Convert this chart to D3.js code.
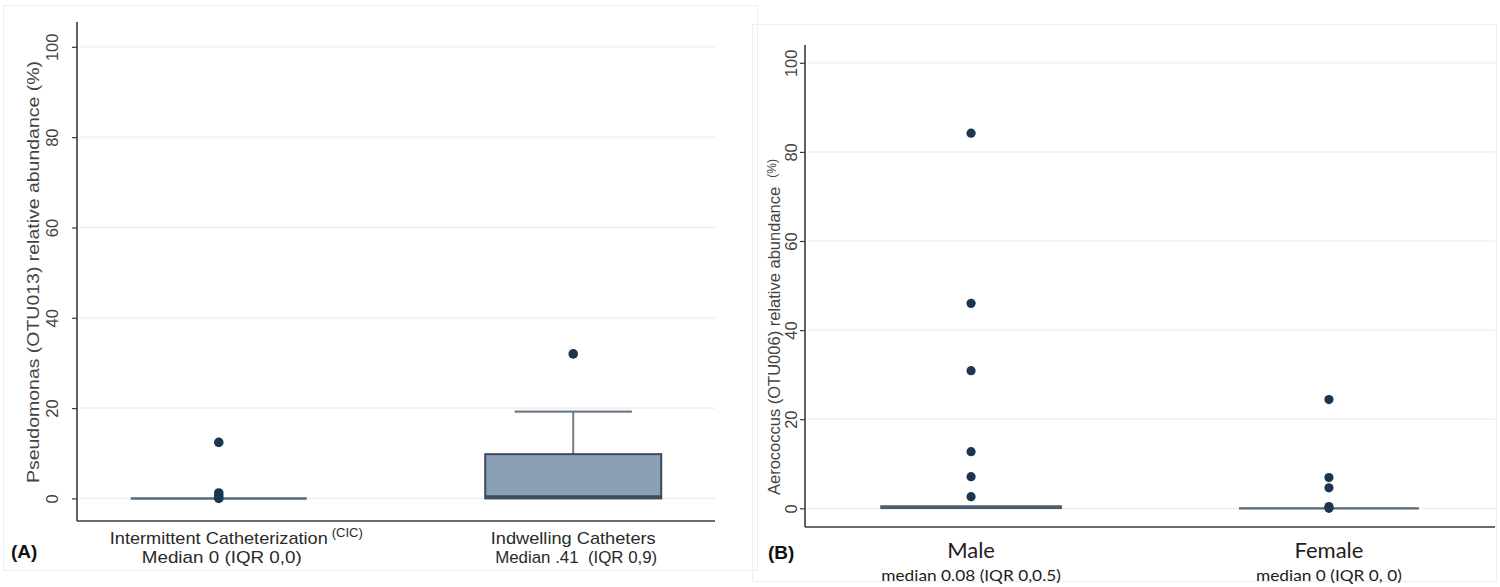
<!DOCTYPE html>
<html>
<head>
<meta charset="utf-8">
<script src="https://cdn.jsdelivr.net/npm/d3@7"></script>
<style>
  html, body { margin: 0; padding: 0; background: #fff; }
  svg { display: block; }
  text { white-space: pre; }
</style>
</head>
<body>
<script>
// ---------- Panel A data ----------
const aCategories = ["Intermittent Catheterization", "Indwelling Catheters"];
const aSuperscripts = ["(CIC)", ""];
const aSubLabels = ["Median 0 (IQR 0,0)", "Median .41  (IQR 0,9)"];
const aMedian = [0, 0.41];
const aQ1 = [0, 0];
const aQ3 = [0, 9.8];
const aWhiskerHigh = [0, 19.2];
const aOutliers = [[12.4, 1.2, 0.6, 0], [32]];
const aTicks = [0, 20, 40, 60, 80, 100];
const aYLabel = "Pseudomonas (OTU013) relative abundance (%)";

// ---------- Panel B data ----------
const bCategories = ["Male", "Female"];
const bSubLabels = ["median 0.08 (IQR 0,0.5)", "median 0 (IQR 0, 0)"];
const bMedian = [0.08, 0];
const bQ1 = [0, 0];
const bQ3 = [0.5, 0];
const bOutliers = [[84.2, 46, 30.9, 12.7, 7.1, 2.6], [24.4, 6.9, 4.6, 0.4, 0]];
const bTicks = [0, 20, 40, 60, 80, 100];
const bYLabelMain = "Aerococcus (OTU006) relative abundance  ";
const bYLabelUnit = "(%)";

const W = 1500, H = 587;
const svg = d3.select("body").append("svg").attr("width", W).attr("height", H);

const DOT = "#1d3650", BOXFILL = "#8a9eb6", BOXSTROKE = "#3a4b5c",
      MEDLINE = "#56697a", WHISK = "#6f7d89", GRID = "#ececec", AXIS = "#3a3a3a";
const ARIAL = "Liberation Sans, Arial, sans-serif";

// panel frames (faint)
svg.append("rect").attr("x", 3.5).attr("y", 5.5).attr("width", 754).attr("height", 565)
  .attr("fill", "none").attr("stroke", "#eeeeee");
svg.append("rect").attr("x", 752.5).attr("y", 24.5).attr("width", 744).attr("height", 557)
  .attr("fill", "none").attr("stroke", "#eeeeee");

function panel(opts) {
  const g = svg.append("g");
  const y = d3.scaleLinear().domain(opts.yDomain).range([opts.bottom, opts.top]);
  const x = d3.scalePoint().domain(opts.categories).range([opts.left, opts.right]).padding(opts.pad);

  g.selectAll(".grid").data(opts.ticks).join("line")
    .attr("x1", opts.left + 3).attr("x2", opts.right)
    .attr("y1", d => y(d)).attr("y2", d => y(d))
    .attr("stroke", GRID).attr("stroke-width", 1.2);

  const yAxis = d3.axisLeft(y).tickValues(opts.ticks).tickSize(5).tickPadding(0).tickFormat(d3.format("d"));
  const ya = g.append("g").attr("transform", `translate(${opts.left},0)`).call(yAxis);
  ya.select(".domain").remove();
  ya.selectAll(".tick line").attr("stroke", AXIS).attr("stroke-width", 1.2);
  ya.selectAll(".tick text")
    .attr("x", 0).attr("dy", null)
    .attr("transform", `translate(${opts.tickLabelX - opts.left},0) rotate(-90)`)
    .attr("text-anchor", "middle").attr("dominant-baseline", "central")
    .attr("font-family", ARIAL)
    .attr("font-size", opts.tickFont).attr("fill", "#444");

  g.append("line").attr("x1", opts.left).attr("x2", opts.left)
    .attr("y1", opts.top).attr("y2", opts.bottom)
    .attr("stroke", AXIS).attr("stroke-width", 1.6);
  g.append("line").attr("x1", opts.left).attr("x2", opts.right)
    .attr("y1", opts.bottom).attr("y2", opts.bottom)
    .attr("stroke", AXIS).attr("stroke-width", 1.6);

  return { g, x, y };
}

// ---------- Panel A ----------
const A = panel({
  categories: aCategories, ticks: aTicks, yDomain: [-5, 105.5],
  left: 77, right: 715, top: 22, bottom: 521, pad: 0.4, tickLabelX: 52, tickFont: 16.5
});
const bwA = 176;
const aLabelWidths = [218, 165];
const aSubWidths = [160, 162];
aCategories.forEach((c, i) => {
  const cx = A.x(c);
  if (aWhiskerHigh[i] > aQ3[i]) {
    A.g.append("line").attr("x1", cx).attr("x2", cx)
      .attr("y1", A.y(aQ3[i])).attr("y2", A.y(aWhiskerHigh[i]))
      .attr("stroke", WHISK).attr("stroke-width", 2);
    A.g.append("line").attr("x1", cx - bwA / 3).attr("x2", cx + bwA / 3)
      .attr("y1", A.y(aWhiskerHigh[i])).attr("y2", A.y(aWhiskerHigh[i]))
      .attr("stroke", WHISK).attr("stroke-width", 2.2);
  }
  if (aQ3[i] > aQ1[i]) {
    A.g.append("rect").attr("x", cx - bwA / 2).attr("width", bwA)
      .attr("y", A.y(aQ3[i])).attr("height", A.y(aQ1[i]) - A.y(aQ3[i]))
      .attr("fill", BOXFILL).attr("stroke", BOXSTROKE).attr("stroke-width", 2);
    A.g.append("line").attr("x1", cx - bwA / 2).attr("x2", cx + bwA / 2)
      .attr("y1", A.y(aMedian[i])).attr("y2", A.y(aMedian[i]))
      .attr("stroke", BOXSTROKE).attr("stroke-width", 2.5);
  } else {
    A.g.append("line").attr("x1", cx - bwA / 2).attr("x2", cx + bwA / 2)
      .attr("y1", A.y(aMedian[i])).attr("y2", A.y(aMedian[i]))
      .attr("stroke", MEDLINE).attr("stroke-width", 2.5);
  }
  A.g.selectAll(null).data(aOutliers[i]).join("circle")
    .attr("cx", cx).attr("cy", d => A.y(d)).attr("r", 4.8).attr("fill", DOT);

  A.g.append("text").attr("x", cx).attr("y", 544).attr("text-anchor", "middle")
    .attr("font-family", ARIAL).attr("font-size", 17)
    .attr("fill", "#2a2a2a").attr("textLength", aLabelWidths[i]).attr("lengthAdjust", "spacingAndGlyphs").text(c);
  if (aSuperscripts[i]) {
    A.g.append("text").attr("x", cx + aLabelWidths[i] / 2 + 4).attr("y", 537)
      .attr("font-family", ARIAL).attr("font-size", 13)
      .attr("fill", "#2a2a2a").text(aSuperscripts[i]);
  }
  A.g.append("text").attr("x", cx + 3).attr("y", 563).attr("text-anchor", "middle")
    .attr("font-family", ARIAL).attr("font-size", 17)
    .attr("fill", "#2a2a2a").attr("textLength", aSubWidths[i]).attr("lengthAdjust", "spacingAndGlyphs").text(aSubLabels[i]);
});
A.g.append("text").attr("transform", "translate(33,272) rotate(-90)")
  .attr("text-anchor", "middle").attr("dominant-baseline", "central")
  .attr("font-family", ARIAL).attr("font-size", 17)
  .attr("fill", "#444").attr("textLength", 422).attr("lengthAdjust", "spacingAndGlyphs").text(aYLabel);
svg.append("text").attr("x", 11).attr("y", 558)
  .attr("font-family", ARIAL).attr("font-weight", "bold")
  .attr("font-size", 19).attr("fill", "#111").text("(A)");

// ---------- Panel B ----------
const B = panel({
  categories: bCategories, ticks: bTicks, yDomain: [-4.2, 104],
  left: 805, right: 1495, top: 45, bottom: 527, pad: 0.464, tickLabelX: 791, tickFont: 16.5
});
const bwB = 180;
bCategories.forEach((c, i) => {
  const cx = B.x(c);
  if (bQ3[i] > bQ1[i]) {
    B.g.append("rect").attr("x", cx - bwB / 2).attr("width", bwB)
      .attr("y", B.y(bQ3[i])).attr("height", B.y(bQ1[i]) - B.y(bQ3[i]))
      .attr("fill", BOXFILL).attr("stroke", "#445868").attr("stroke-width", 1.6);
    B.g.append("line").attr("x1", cx - bwB / 2).attr("x2", cx + bwB / 2)
      .attr("y1", B.y(bMedian[i])).attr("y2", B.y(bMedian[i]))
      .attr("stroke", "#445868").attr("stroke-width", 1.2);
  } else {
    B.g.append("line").attr("x1", cx - bwB / 2).attr("x2", cx + bwB / 2)
      .attr("y1", B.y(bMedian[i])).attr("y2", B.y(bMedian[i]))
      .attr("stroke", MEDLINE).attr("stroke-width", 2.2);
  }
  B.g.selectAll(null).data(bOutliers[i]).join("circle")
    .attr("cx", cx).attr("cy", d => B.y(d)).attr("r", 4.6).attr("fill", DOT);

  B.g.append("text").attr("x", cx).attr("y", 558).attr("text-anchor", "middle")
    .attr("font-family", "Lato, Open Sans, sans-serif").attr("font-size", 22)
    .attr("fill", "#1e1e1e").text(c);
  const sub = B.g.append("text").attr("x", cx).attr("y", 581).attr("text-anchor", "middle")
    .attr("font-family", "Lato, Open Sans, sans-serif").attr("font-size", 16)
    .attr("fill", "#1e1e1e").text(bSubLabels[i]);
  const w = sub.node().getComputedTextLength();
  sub.attr("textLength", w * 1.08).attr("lengthAdjust", "spacingAndGlyphs");
});
const bl = B.g.append("text").attr("transform", "translate(774,327) rotate(-90)")
  .attr("text-anchor", "middle").attr("dominant-baseline", "central")
  .attr("font-family", ARIAL).attr("font-size", 16.5)
  .attr("fill", "#444");
bl.append("tspan").text(bYLabelMain);
bl.append("tspan").attr("font-size", 12).attr("dy", -2).text(bYLabelUnit);
svg.append("text").attr("x", 768).attr("y", 559)
  .attr("font-family", ARIAL).attr("font-weight", "bold")
  .attr("font-size", 19).attr("fill", "#111").text("(B)");
</script>
</body>
</html>
